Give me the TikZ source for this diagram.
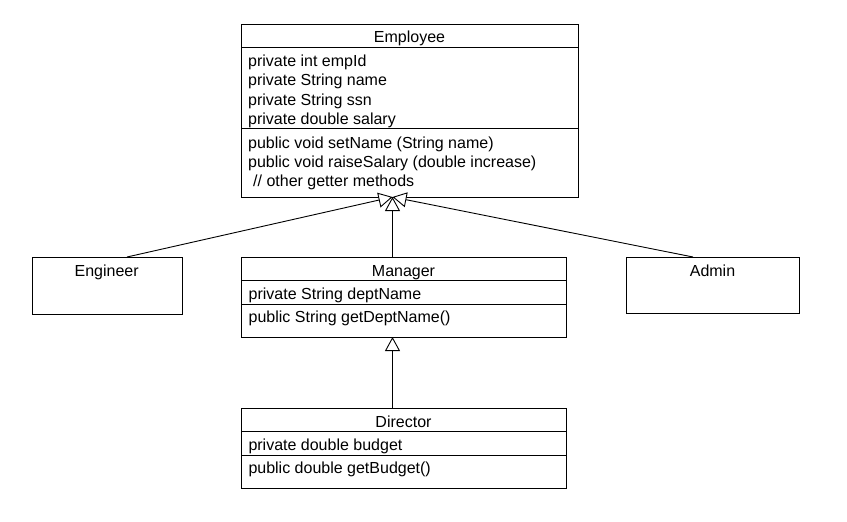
\documentclass[tikz,border=0pt]{standalone}
\usepackage{fontspec}
\setmainfont{Liberation Sans}
\usetikzlibrary{arrows.meta}
\begin{document}
\begin{tikzpicture}[x=1pt,y=-1pt,
  box/.style={draw=black, line width=0.9pt, inner sep=0pt, anchor=north west},
  sepline/.style={draw=black, line width=0.9pt},
  title/.style={anchor=base, inner sep=0pt, font=\fontsize{16}{19}\selectfont},
  item/.style={anchor=base west, inner sep=0pt, font=\fontsize{16}{19}\selectfont},
  gen/.style={draw=black, line width=0.9pt, -{Triangle[length=14pt,width=15pt,fill=white,line width=0.9pt]}}]
\useasboundingbox[fill=white] (0,0) rectangle (847,522);

% Employee
\node[box, minimum width=337pt, minimum height=173pt] (emp) at (241,24) {};
\draw[sepline] (emp.west |- 0,47) -- (emp.east |- 0,47);
\draw[sepline] (emp.west |- 0,128) -- (emp.east |- 0,128);
\node[title] (empt) at (409.5,42.5) {Employee};
\node[item] (e1) at (248,66.7) {private int empId};
\node[item] (e2) at (248,85.9) {private String name};
\node[item] (e3) at (248,105.1) {private String ssn};
\node[item] (e4) at (248,124.3) {private double salary};
\node[item] (e5) at (248,148.3) {public void setName (String name)};
\node[item] (e6) at (248,167.5) {public void raiseSalary (double increase)};
\node[item] (e7) at (253,186.7) {// other getter methods};

% Engineer
\node[box, minimum width=150pt, minimum height=57pt] (eng) at (31.7,257) {};
\node[title] (engt) at (106.7,276) {Engineer};

% Admin
\node[box, minimum width=173pt, minimum height=56pt] (adm) at (626,257) {};
\node[title] (admt) at (712.5,276) {Admin};

% Manager
\node[box, minimum width=325pt, minimum height=80pt] (mgr) at (241,257) {};
\draw[sepline] (mgr.west |- 0,280) -- (mgr.east |- 0,280);
\draw[sepline] (mgr.west |- 0,304) -- (mgr.east |- 0,304);
\node[title] (mgrt) at (403.5,276) {Manager};
\node[item] (m1) at (248.5,299.3) {private String deptName};
\node[item] (m2) at (248.5,322.7) {public String getDeptName()};

% Director
\node[box, minimum width=325pt, minimum height=80pt] (dir) at (241,408) {};
\draw[sepline] (dir.west |- 0,431.7) -- (dir.east |- 0,431.7);
\draw[sepline] (dir.west |- 0,455) -- (dir.east |- 0,455);
\node[title] (dirt) at (403.5,427.3) {Director};
\node[item] (d1) at (248.3,450.3) {private double budget};
\node[item] (d2) at (248.3,473.3) {public double getBudget()};

% connection points
\coordinate (apex) at (392.5,197);
\coordinate (mapex) at (392.5,337);
\coordinate (engtop) at (127,257);
\coordinate (admtop) at (693,257);
\coordinate (mgrtop) at (392.5,257);
\coordinate (dirtop) at (392.5,408);

\draw[gen] (engtop) -- (apex);
\draw[gen] (admtop) -- (apex);
\draw[gen] (mgrtop) -- (apex);
\draw[gen] (dirtop) -- (mapex);
\end{tikzpicture}
\end{document}
